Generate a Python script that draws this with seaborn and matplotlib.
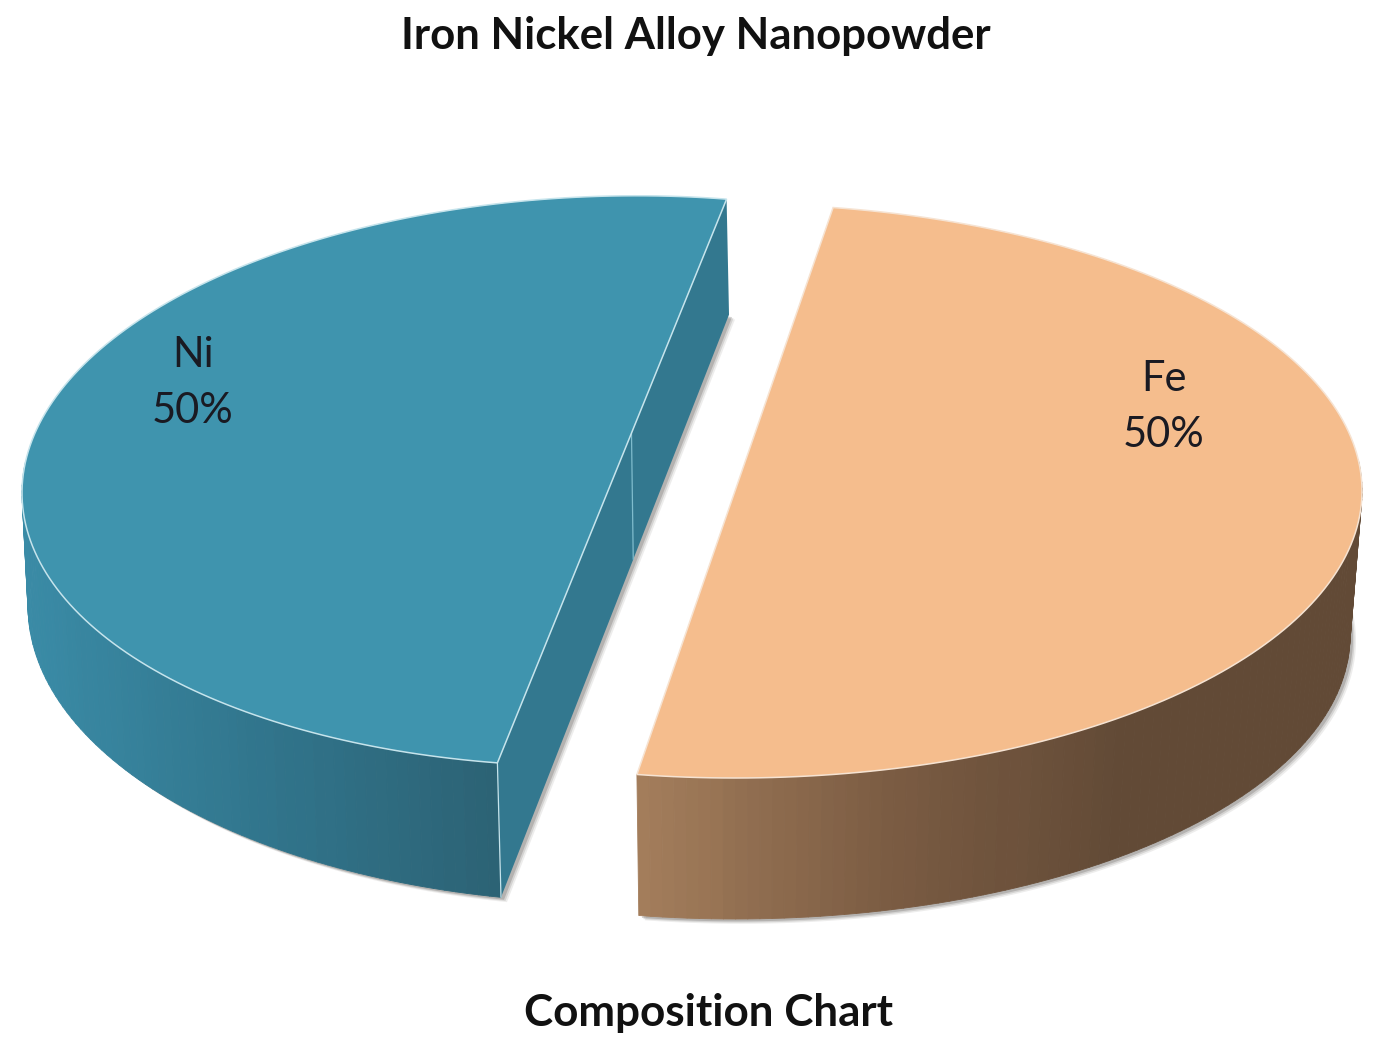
import numpy as np
import matplotlib
matplotlib.use("Agg")
import matplotlib.pyplot as plt
from matplotlib.collections import PolyCollection
from matplotlib.patches import Polygon
import seaborn as sns

# ---- data ----
labels = ["Ni", "Fe"]
values = [50, 50]
title = "Iron Nickel Alloy Nanopowder"
subtitle = "Composition Chart"

# ---- styling ----
top_colors = ["#3f94ae", "#f5bd8d"]
wall_palettes = [["#3a8ba6", "#31758c", "#2c6274"], ["#a37d5b", "#7b5c43", "#624a36", "#624a36"]]
inner_colors = ["#33788f", "#a07a58"]
edge_colors = ["#c6e4ec", "#f6e3d2"]
label_anchor = [(193, 383), (1164, 407)]

# projected ellipses per slice in pixels: (cx, cy, a, b, shear)
top_ell = [(612, 481, 590, 285, 0.02), (735, 491, 627, 287, 0.0)]
bot_ell = [(615, 606, 587, 297, 0.0), (735, 636, 615, 283, 0.0)]
start_angle = 78.8
trim = [0.0, 2.2]

sns.set_theme(style="white")
plt.rcParams["font.family"] = ["Lato", "DejaVu Sans"]

fig = plt.figure(figsize=(13.8, 10.44), dpi=100, facecolor="white")
ax = fig.add_axes([0, 0, 1, 1])
ax.set_xlim(0, 1380)
ax.set_ylim(1044, 0)
ax.axis("off")


def pt(ell, deg):
    cx, cy, a, b, s = ell
    r = np.radians(deg)
    x = a * np.cos(r)
    return np.column_stack([cx + x, cy - b * np.sin(r) - s * x])


shares = np.array(values, dtype=float) / sum(values) * 360
starts = start_angle + np.concatenate([[0], np.cumsum(shares)[:-1]])
N = 160

# shadows first, the walls in front of them
for i in range(len(values)):
    t = np.linspace(starts[i] + trim[i], starts[i] + trim[i] + shares[i], N)
    bot = pt(bot_ell[i], t)
    for off, alpha in [(6, 0.10), (4.5, 0.16), (3, 0.25)]:
        ax.add_patch(Polygon(bot + [off, off * 0.8], closed=True, facecolor="#55504c",
                             edgecolor="none", alpha=alpha, zorder=1))

for i in range(len(values)):
    t = np.linspace(starts[i] + trim[i], starts[i] + trim[i] + shares[i], N)
    top = pt(top_ell[i], t)
    bot = pt(bot_ell[i], t)
    base = 2 + i * 3

    # cut face seen through the gap (Ni only shows it)
    if i == 0:
        inner = np.vstack([top[0], top[-1], bot[-1], bot[0]])
        ax.add_patch(Polygon(inner, closed=True, facecolor=inner_colors[i],
                             edgecolor="none", zorder=base))

    # outer wall, shaded along the screen x direction
    front = np.sin(np.radians(t)) < 0.12
    quads, xs = [], []
    for k in range(N - 1):
        if front[k] and front[k + 1]:
            quads.append([top[k], top[k + 1], bot[k + 1], bot[k]])
            xs.append((top[k][0] + top[k + 1][0]) / 2)
    xs = np.array(xs)
    pal = sns.blend_palette(wall_palettes[i], n_colors=64)
    if i == 0:
        frac = (xs - xs.min()) / (top[-1][0] - xs.min())
    else:
        frac = (xs - top[0][0]) / (xs.max() - top[0][0])
    cols = [pal[int(np.clip(f, 0, 1) * 63)] for f in frac]
    ax.add_collection(PolyCollection(quads, facecolors=cols, edgecolors=cols,
                                     linewidths=0.6, zorder=base + 1))

    # top face with a thin light rim
    ax.add_patch(Polygon(top, closed=True, facecolor=top_colors[i],
                         edgecolor=edge_colors[i], linewidth=1.1, zorder=base + 2))

    # light construction edges on the Ni solid
    if i == 0:
        ax.plot([top[-1][0], bot[-1][0]], [top[-1][1], bot[-1][1]],
                color=edge_colors[i], lw=0.9, zorder=base + 2)
        mid_top = top[0] + (top[-1] - top[0]) * 0.415
        mid_bot = bot[0] + (bot[-1] - bot[0]) * 0.42
        ax.plot([mid_top[0], mid_bot[0]], [mid_top[1], mid_bot[1]],
                color="#7fbccd", lw=0.9, zorder=base + 1)

    ax.text(label_anchor[i][0], label_anchor[i][1],
            f"{labels[i]}\n{values[i]}%", ha="center", va="center",
            fontsize=30, color="#1a1a22", linespacing=1.57, zorder=20)

ax.text(696, 36, title, ha="center", va="center", fontsize=31.5,
        fontweight="bold", color="#111111", zorder=20)
ax.text(709, 1013, subtitle, ha="center", va="center", fontsize=31.7,
        fontweight="bold", color="#111111", zorder=20)

fig.savefig("out.png", dpi=100, facecolor="white")
